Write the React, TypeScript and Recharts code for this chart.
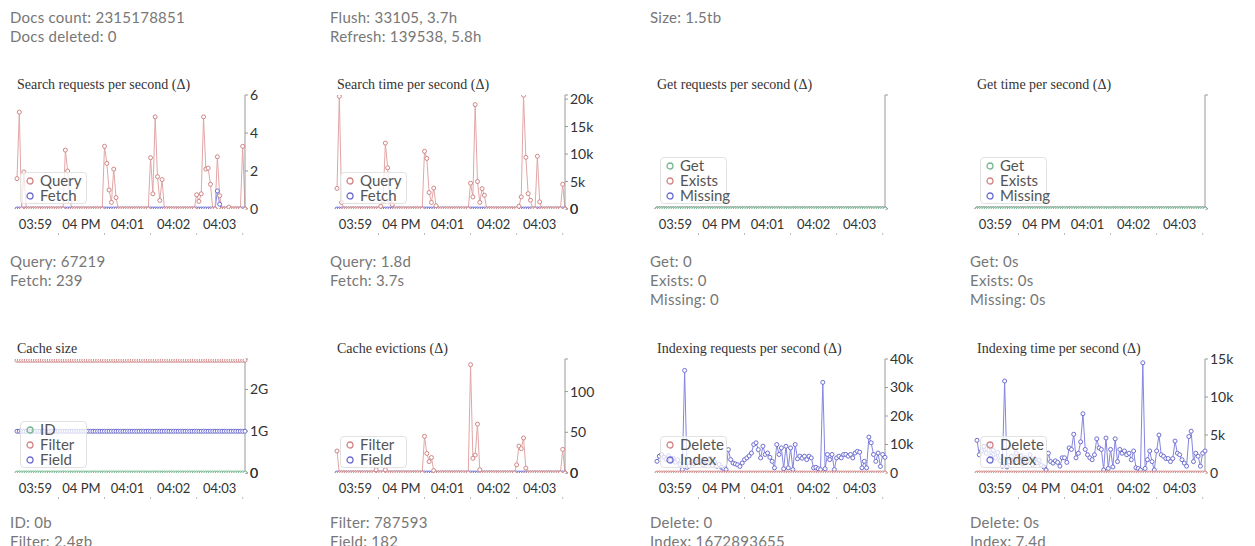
import React from "react";
import { LineChart, Line, XAxis, YAxis } from "recharts";

// one sample every 3s, 20 per row (= one minute per row)
const times = [
  "03:58:36", "03:58:39", "03:58:42", "03:58:45", "03:58:48", "03:58:51", "03:58:54", "03:58:57", "03:59:00", "03:59:03", "03:59:06", "03:59:09", "03:59:12", "03:59:15", "03:59:18", "03:59:21", "03:59:24", "03:59:27", "03:59:30", "03:59:33",
  "03:59:36", "03:59:39", "03:59:42", "03:59:45", "03:59:48", "03:59:51", "03:59:54", "03:59:57", "04:00:00", "04:00:03", "04:00:06", "04:00:09", "04:00:12", "04:00:15", "04:00:18", "04:00:21", "04:00:24", "04:00:27", "04:00:30", "04:00:33",
  "04:00:36", "04:00:39", "04:00:42", "04:00:45", "04:00:48", "04:00:51", "04:00:54", "04:00:57", "04:01:00", "04:01:03", "04:01:06", "04:01:09", "04:01:12", "04:01:15", "04:01:18", "04:01:21", "04:01:24", "04:01:27", "04:01:30", "04:01:33",
  "04:01:36", "04:01:39", "04:01:42", "04:01:45", "04:01:48", "04:01:51", "04:01:54", "04:01:57", "04:02:00", "04:02:03", "04:02:06", "04:02:09", "04:02:12", "04:02:15", "04:02:18", "04:02:21", "04:02:24", "04:02:27", "04:02:30", "04:02:33",
  "04:02:36", "04:02:39", "04:02:42", "04:02:45", "04:02:48", "04:02:51", "04:02:54", "04:02:57", "04:03:00", "04:03:03", "04:03:06", "04:03:09", "04:03:12", "04:03:15", "04:03:18", "04:03:21", "04:03:24", "04:03:27", "04:03:30", "04:03:33",
];

const minuteTicks = ["03:59:00", "04:00:00", "04:01:00", "04:02:00", "04:03:00"];
const minuteLabels = ["03:59", "04 PM", "04:01", "04:02", "04:03"];
const halfMinuteTicks = ["03:59:30", "04:00:30", "04:01:30", "04:02:30", "04:03:30"];

const zeros = [
  0, 0, 0, 0, 0, 0, 0, 0, 0, 0, 0, 0, 0, 0, 0, 0, 0, 0, 0, 0,
  0, 0, 0, 0, 0, 0, 0, 0, 0, 0, 0, 0, 0, 0, 0, 0, 0, 0, 0, 0,
  0, 0, 0, 0, 0, 0, 0, 0, 0, 0, 0, 0, 0, 0, 0, 0, 0, 0, 0, 0,
  0, 0, 0, 0, 0, 0, 0, 0, 0, 0, 0, 0, 0, 0, 0, 0, 0, 0, 0, 0,
  0, 0, 0, 0, 0, 0, 0, 0, 0, 0, 0, 0, 0, 0, 0, 0, 0, 0, 0, 0,
];

const searchReqQuery = [
  1.6, 5.1, 0, 1.95, 0, 0, 0, 0, 0, 0, 0, 0, 0, 0, 0, 0, 0, 0, 0, 0,
  0, 3.1, 2.0, 0.4, 0, 0, 0, 0, 0, 0, 0, 0, 0, 0, 0, 0, 0, 0, 3.3, 2.4,
  1.0, 0.35, 2.1, 0.6, 0, 0, 0, 0, 0, 0, 0, 0, 0, 0, 0, 0, 0, 0, 2.7, 0.8,
  4.85, 1.7, 0.45, 1.55, 0, 0, 0, 0, 0, 0, 0, 0, 0, 0, 0, 0, 0, 0, 0.75, 0.4,
  0.8, 4.85, 2.1, 2.15, 1.3, 0, 0, 2.75, 0.7, 0, 0, 0, 0.1, 0, 0, 0, 0, 0, 3.3, 0,
];
const searchReqFetch = [
  0, 0, 0, 0, 0, 0, 0, 0, 0, 0, 0, 0, 0, 0, 0, 0, 0, 0, 0, 0,
  0, 0, 0, 0, 0, 0, 0, 0, 0, 0, 0, 0, 0, 0, 0, 0, 0, 0, 0, 0,
  0, 0, 0, 0, 0, 0, 0, 0, 0, 0, 0, 0, 0, 0, 0, 0, 0, 0, 0, 0,
  0, 0, 0, 0, 0, 0, 0, 0, 0, 0, 0, 0, 0, 0, 0, 0, 0, 0, 0, 0,
  0, 0, 0, 0, 0, 0, 0, 0.95, 0.25, 0, 0, 0, 0, 0, 0, 0, 0, 0, 0, 0,
];

const searchTimeQuery = [
  3750, 20500, 1200, 0, 0, 0, 0, 0, 0, 0, 0, 0, 0, 0, 0, 0, 0, 0, 0, 500,
  1500, 12000, 7500, 1500, 800, 0, 0, 0, 0, 0, 0, 0, 0, 0, 0, 0, 0, 0, 10500, 9200,
  3000, 1200, 3800, 600, 0, 0, 0, 0, 0, 0, 0, 0, 0, 0, 0, 0, 0, 0, 4700, 2200,
  19000, 5000, 1200, 3700, 2500, 0, 0, 0, 0, 0, 0, 0, 0, 0, 0, 0, 0, 0, 0, 500,
  2200, 20700, 9400, 2800, 1600, 0, 0, 9600, 1300, 0, 0, 0, 0, 0, 0, 0, 0, 0, 4500, 0,
];

const cacheFilter = [
  2.7e9, 2.7e9, 2.7e9, 2.7e9, 2.7e9, 2.7e9, 2.7e9, 2.7e9, 2.7e9, 2.7e9, 2.7e9, 2.7e9, 2.7e9, 2.7e9, 2.7e9, 2.7e9, 2.7e9, 2.7e9, 2.7e9, 2.7e9,
  2.7e9, 2.7e9, 2.7e9, 2.7e9, 2.7e9, 2.7e9, 2.7e9, 2.7e9, 2.7e9, 2.7e9, 2.7e9, 2.7e9, 2.7e9, 2.7e9, 2.7e9, 2.7e9, 2.7e9, 2.7e9, 2.7e9, 2.7e9,
  2.7e9, 2.7e9, 2.7e9, 2.7e9, 2.7e9, 2.7e9, 2.7e9, 2.7e9, 2.7e9, 2.7e9, 2.7e9, 2.7e9, 2.7e9, 2.7e9, 2.7e9, 2.7e9, 2.7e9, 2.7e9, 2.7e9, 2.7e9,
  2.7e9, 2.7e9, 2.7e9, 2.7e9, 2.7e9, 2.7e9, 2.7e9, 2.7e9, 2.7e9, 2.7e9, 2.7e9, 2.7e9, 2.7e9, 2.7e9, 2.7e9, 2.7e9, 2.7e9, 2.7e9, 2.7e9, 2.7e9,
  2.7e9, 2.7e9, 2.7e9, 2.7e9, 2.7e9, 2.7e9, 2.7e9, 2.7e9, 2.7e9, 2.7e9, 2.7e9, 2.7e9, 2.7e9, 2.7e9, 2.7e9, 2.7e9, 2.7e9, 2.7e9, 2.7e9, 2.7e9,
];
const cacheField = [
  1e9, 1e9, 1e9, 1e9, 1e9, 1e9, 1e9, 1e9, 1e9, 1e9, 1e9, 1e9, 1e9, 1e9, 1e9, 1e9, 1e9, 1e9, 1e9, 1e9,
  1e9, 1e9, 1e9, 1e9, 1e9, 1e9, 1e9, 1e9, 1e9, 1e9, 1e9, 1e9, 1e9, 1e9, 1e9, 1e9, 1e9, 1e9, 1e9, 1e9,
  1e9, 1e9, 1e9, 1e9, 1e9, 1e9, 1e9, 1e9, 1e9, 1e9, 1e9, 1e9, 1e9, 1e9, 1e9, 1e9, 1e9, 1e9, 1e9, 1e9,
  1e9, 1e9, 1e9, 1e9, 1e9, 1e9, 1e9, 1e9, 1e9, 1e9, 1e9, 1e9, 1e9, 1e9, 1e9, 1e9, 1e9, 1e9, 1e9, 1e9,
  1e9, 1e9, 1e9, 1e9, 1e9, 1e9, 1e9, 1e9, 1e9, 1e9, 1e9, 1e9, 1e9, 1e9, 1e9, 1e9, 1e9, 1e9, 1e9, 1e9,
];

const evictionsFilter = [
  27, 0, 0, 0, 0, 0, 0, 0, 0, 0, 0, 0, 0, 0, 0, 0, 0, 4, 0, 0,
  0, 4, 0, 0, 0, 0, 0, 0, 0, 0, 0, 0, 0, 0, 0, 0, 0, 0, 45, 24,
  14, 19, 3, 0, 0, 0, 0, 0, 0, 0, 0, 0, 0, 0, 0, 0, 0, 0, 133, 18,
  22, 60, 4, 0, 0, 0, 0, 0, 0, 0, 0, 0, 0, 0, 0, 0, 0, 0, 10, 33,
  30, 43, 6, 0, 0, 0, 0, 0, 0, 0, 0, 0, 0, 0, 0, 0, 0, 0, 29, 0,
];

const indexReqIndex = [
  4100, 5900, 6500, 5500, 4800, 6000, 4500, 5200, 3800, 4600, 3000, 1200, 36000, 2000, 2500, 4000, 3200, 5000, 3600, 4200,
  2800, 4500, 3400, 5100, 2600, 3900, 2400, 3000, 2000, 1500, 1200, 8200, 4700, 3500, 3200, 2900, 2300, 3500, 4700, 5300,
  6000, 7000, 10000, 10600, 8200, 5300, 9400, 6500, 7000, 5500, 4100, 1800, 10000, 6500, 8800, 1500, 9400, 1800, 8800, 1200,
  10000, 5000, 5900, 5200, 5900, 4700, 5900, 5300, 1800, 2000, 1500, 1200, 31800, 1500, 6500, 4700, 6500, 1200, 5300, 5900,
  5300, 6500, 6500, 5900, 6500, 5300, 7000, 7600, 7300, 1800, 4100, 1800, 12600, 10600, 6500, 4100, 7000, 2300, 6500, 5500,
];

const indexTimeIndex = [
  4300, 2400, 2900, 3500, 2600, 3800, 2200, 3000, 2000, 2700, 1600, 900, 12100, 800, 1500, 2200, 1400, 2600, 1800, 2300,
  1200, 2000, 1600, 2400, 1100, 1900, 1300, 1700, 1000, 800, 400, 2600, 1500, 1300, 1600, 1400, 900, 2000, 2000, 1400,
  3300, 3100, 5100, 2000, 2600, 4100, 7800, 3100, 2400, 2000, 1750, 2400, 4500, 3300, 3100, 400, 4600, 600, 3100, 800,
  4500, 1500, 3100, 2600, 2900, 2400, 2600, 1750, 2900, 700, 600, 400, 14500, 600, 1750, 2900, 1500, 400, 2900, 5000,
  2400, 2200, 1900, 1900, 1500, 1900, 4200, 2600, 2400, 1750, 1300, 900, 4800, 5500, 1500, 2600, 2200, 900, 2600, 2900,
];

const RED = { line: "#e2a6a6", dot: "#d18585" };
const BLUE = { line: "#8585e2", dot: "#6e6ed2" };
const GREEN = { line: "#92cca8", dot: "#72b68e" };

const toSec = (s: string) => {
  const [h, m, sec] = s.split(":").map(Number);
  return h * 3600 + m * 60 + sec;
};
const tSec = times.map(toSec);
const tDomain = [tSec[0], tSec[tSec.length - 1]];
const minuteSec = minuteTicks.map(toSec);
const halfSec = halfMinuteTicks.map(toSec);

const plain = (v: number) => String(v);
const kilo = (v: number) => (v === 0 ? "0" : `${v / 1000}k`);
const giga = (v: number) => (v === 0 ? "0" : `${v / 1e9}G`);

type Series = { name: string; values: number[]; color: { line: string; dot: string } };
type ChartDef = {
  col: number;
  row: number;
  title: string;
  series: Series[];
  domain: [number, number];
  labeled: number[];
  fmt: (v: number) => string;
};

const charts: ChartDef[] = [
  {
    col: 0, row: 0, title: "Search requests per second (Δ)",
    series: [{ name: "Query", values: searchReqQuery, color: RED }, { name: "Fetch", values: searchReqFetch, color: BLUE }],
    domain: [0, 6], labeled: [0, 2, 4, 6], fmt: plain,
  },
  {
    col: 1, row: 0, title: "Search time per second (Δ)",
    series: [{ name: "Query", values: searchTimeQuery, color: RED }, { name: "Fetch", values: zeros, color: BLUE }],
    domain: [0, 20750], labeled: [0, 5000, 10000, 15000, 20000], fmt: kilo,
  },
  {
    col: 2, row: 0, title: "Get requests per second (Δ)",
    series: [{ name: "Get", values: zeros, color: GREEN }, { name: "Exists", values: zeros, color: RED }, { name: "Missing", values: zeros, color: BLUE }],
    domain: [0, 1], labeled: [], fmt: plain,
  },
  {
    col: 3, row: 0, title: "Get time per second (Δ)",
    series: [{ name: "Get", values: zeros, color: GREEN }, { name: "Exists", values: zeros, color: RED }, { name: "Missing", values: zeros, color: BLUE }],
    domain: [0, 1], labeled: [], fmt: plain,
  },
  {
    col: 0, row: 1, title: "Cache size",
    series: [{ name: "ID", values: zeros, color: GREEN }, { name: "Filter", values: cacheFilter, color: RED }, { name: "Field", values: cacheField, color: BLUE }],
    domain: [0, 2.73e9], labeled: [0, 1e9, 2e9], fmt: giga,
  },
  {
    col: 1, row: 1, title: "Cache evictions (Δ)",
    series: [{ name: "Filter", values: evictionsFilter, color: RED }, { name: "Field", values: zeros, color: BLUE }],
    domain: [0, 140], labeled: [0, 50, 100], fmt: plain,
  },
  {
    col: 2, row: 1, title: "Indexing requests per second (Δ)",
    series: [{ name: "Delete", values: zeros, color: RED }, { name: "Index", values: indexReqIndex, color: BLUE }],
    domain: [0, 40000], labeled: [0, 10000, 20000, 30000, 40000], fmt: kilo,
  },
  {
    col: 3, row: 1, title: "Indexing time per second (Δ)",
    series: [{ name: "Delete", values: zeros, color: RED }, { name: "Index", values: indexTimeIndex, color: BLUE }],
    domain: [0, 15000], labeled: [0, 5000, 10000, 15000], fmt: kilo,
  },
];

const stats = [
  { col: 0, row: 0, lines: ["Docs count: 2315178851", "Docs deleted: 0"] },
  { col: 1, row: 0, lines: ["Flush: 33105, 3.7h", "Refresh: 139538, 5.8h"] },
  { col: 2, row: 0, lines: ["Size: 1.5tb"] },
  { col: 0, row: 1, lines: ["Query: 67219", "Fetch: 239"] },
  { col: 1, row: 1, lines: ["Query: 1.8d", "Fetch: 3.7s"] },
  { col: 2, row: 1, lines: ["Get: 0", "Exists: 0", "Missing: 0"] },
  { col: 3, row: 1, lines: ["Get: 0s", "Exists: 0s", "Missing: 0s"] },
  { col: 0, row: 2, lines: ["ID: 0b", "Filter: 2.4gb"] },
  { col: 1, row: 2, lines: ["Filter: 787593", "Field: 182"] },
  { col: 2, row: 2, lines: ["Delete: 0", "Index: 1672893655"] },
  { col: 3, row: 2, lines: ["Delete: 0s", "Index: 7.4d"] },
];

const COL_W = 320;
const LEFT = 10;
const statsTop = [7.5, 251.5, 512.5];
const chartTop = [70, 334];
const M_TOP = 25;
const PLOT_H = 114;

const sans = "Lato, 'Open Sans', sans-serif";

function Panel({ def }: { def: ChartDef }) {
  const left = LEFT + def.col * COL_W;
  const top = chartTop[def.row];
  const rows = tSec.map((t, i) => {
    const r: Record<string, number> = { t };
    def.series.forEach((s, k) => (r["s" + k] = s.values[i]));
    return r;
  });
  const yTicks = def.labeled.includes(def.domain[1]) ? def.labeled : [...def.labeled, def.domain[0], def.domain[1]];
  const plotBottom = M_TOP + PLOT_H;
  const legendH = def.series.length * 15 + 2;
  return (
    <div style={{ position: "absolute", left, top, width: 300, height: 170 }}>
      <div
        style={{
          position: "absolute", left: 7, top: 7, fontFamily: "'Liberation Serif', serif",
          fontSize: 14, lineHeight: "16px", color: "#333", whiteSpace: "nowrap",
        }}
      >
        {def.title}
      </div>
      <LineChart width={290} height={165} data={rows} margin={{ top: M_TOP, right: 0, bottom: 0, left: 7 }}>
        <XAxis
          xAxisId="minor" dataKey="t" type="number" domain={tDomain} ticks={halfSec} interval={0}
          tickFormatter={() => ""} axisLine={false} tickLine={{ stroke: "#bbb" }} tickSize={5} height={2}
        />
        <XAxis
          xAxisId="major" dataKey="t" type="number" domain={tDomain} ticks={minuteSec} interval={0}
          tickFormatter={(v: number) => minuteLabels[minuteSec.indexOf(v)]}
          axisLine={false} tickLine={false} tickSize={3} tickMargin={8} height={24}
          tick={{ fontSize: 13, fontFamily: sans, fill: "#333" }}
        />
        <YAxis
          orientation="right" width={55} domain={def.domain} ticks={yTicks} interval={0}
          allowDataOverflow
          tickFormatter={(v: number) => (def.labeled.includes(v) ? def.fmt(v) : "")}
          axisLine={{ stroke: "#999" }} tickLine={{ stroke: "#999" }} tickSize={3} tickMargin={2}
          tick={{ fontSize: 14, fontFamily: sans, fill: "#333" }}
        />
        {def.series
          .map((s, k) => ({ s, k }))
          .reverse()
          .map(({ s, k }) => (
            <Line
              key={s.name}
              xAxisId="major"
              dataKey={"s" + k}
              type="linear"
              stroke={s.color.line}
              strokeWidth={1}
              dot={{ r: 2, stroke: s.color.dot, strokeWidth: 1, fill: "#fff" }}
              activeDot={false}
              isAnimationActive={false}
            />
          ))}
      </LineChart>
      <div
        style={{
          position: "absolute", left: 10, top: plotBottom - 5 - legendH, width: 67, height: legendH,
          boxSizing: "border-box", border: "1px solid #e2e2e2", borderRadius: 4,
          background: "rgba(255,255,255,0.72)", paddingTop: 0,
        }}
      >
        {def.series.map((s) => (
          <div key={s.name} style={{ display: "flex", alignItems: "center", height: 15 }}>
            <svg width={8} height={8} style={{ marginLeft: 5, marginRight: 6, flex: "none" }}>
              <circle cx={4} cy={4} r={3} fill="none" stroke={s.color.dot} strokeWidth={1.3} />
            </svg>
            <span style={{ fontFamily: sans, fontSize: 15, color: "#555", whiteSpace: "nowrap", lineHeight: "15px" }}>
              {s.name}
            </span>
          </div>
        ))}
      </div>
    </div>
  );
}

export default function App() {
  return (
    <div style={{ position: "absolute", left: 0, top: 0, width: 1255, height: 546, overflow: "hidden", background: "#fff" }}>
      {stats.map((b, i) => (
        <div
          key={i}
          style={{
            position: "absolute", left: LEFT + b.col * COL_W, top: statsTop[b.row],
            fontFamily: sans, fontSize: 15, letterSpacing: "0.25px", lineHeight: "19px", color: "#777", whiteSpace: "nowrap",
          }}
        >
          {b.lines.map((l) => (
            <div key={l}>{l}</div>
          ))}
        </div>
      ))}
      {charts.map((c) => (
        <Panel key={c.title} def={c} />
      ))}
    </div>
  );
}
